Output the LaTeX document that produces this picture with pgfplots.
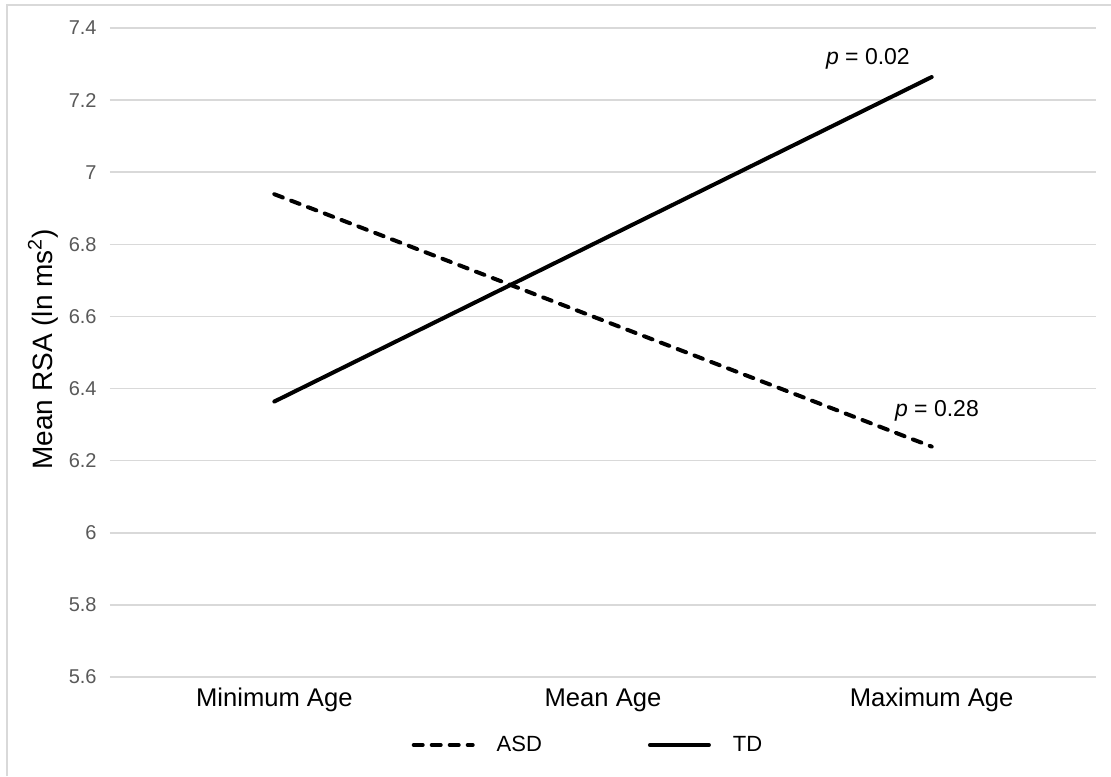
\documentclass[border=0pt]{standalone}
\usepackage{fontspec}
\setmainfont{Liberation Sans}
\usepackage{pgfplots}
\pgfplotsset{compat=1.18}

\definecolor{gridgray}{HTML}{D9D9D9}
\definecolor{tickgray}{HTML}{595959}

\begin{document}
\begin{tikzpicture}
  % canvas and chart-area frame (left and top edges)
  \useasboundingbox (0,0) rectangle (555.5pt,388pt);
  \fill[white] (0,0) rectangle (555.5pt,388pt);
  \draw[gridgray, line width=0.75pt] (3.5pt,0pt) -- (3.5pt,385.5pt) -- (556pt,385.5pt);

  \begin{axis}[
    at={(55pt,49.5pt)}, anchor=south west,
    scale only axis,
    width=493pt, height=324.5pt,
    xmin=-0.5, xmax=2.5,
    ymin=5.6, ymax=7.4,
    xtick={0,1,2},
    xticklabels={Minimum Age, Mean Age, Maximum Age},
    ytick={5.6,5.8,6,6.2,6.4,6.6,6.8,7,7.2,7.4},
    yticklabels={5.6,5.8,6,6.2,6.4,6.6,6.8,7,7.2,7.4},
    major tick length=0pt,
    axis line style={draw=none},
    ymajorgrids,
    grid style={gridgray, line width=0.75pt},
    xticklabel style={font=\fontsize{12.8pt}{15pt}\selectfont, anchor=center, yshift=-11.5pt},
    yticklabel style={font=\fontsize{10pt}{12pt}\selectfont, text=tickgray, anchor=east, inner sep=0pt, xshift=-6.5pt},
    ylabel={Mean RSA (ln ms\textsuperscript{2})},
    every axis y label/.style={at={(axis description cs:-0.068,0.505)}, rotate=90, anchor=center,
      font=\fontsize{14pt}{17pt}\selectfont},
    legend columns=2,
    legend style={at={(axis description cs:0.4858,-0.1048)}, anchor=center, draw=none, fill=none,
      font=\fontsize{11pt}{13pt}\selectfont,
      /tikz/every odd column/.append style={column sep=9pt},
      /tikz/every even column/.append style={column sep=51pt}},
    legend image code/.code={\draw[#1] (0pt,0pt) -- (29.5pt,0pt);},
    clip=false,
  ]
    % ASD group
    \addplot[black, line width=2pt, line cap=round, dash pattern=on 4.5pt off 4.5pt]
      coordinates {(0,6.939) (1,6.589) (2,6.239)};
    \addlegendentry{ASD}
    % TD group
    \addplot[black, line width=2pt, line cap=round]
      coordinates {(0,6.364) (1,6.814) (2,7.264)};
    \addlegendentry{TD}

    \node[font=\fontsize{11.5pt}{14pt}\selectfont] at (axis cs:1.806,7.314) {\textit{p} = 0.02};
    \node[font=\fontsize{11.5pt}{14pt}\selectfont] at (axis cs:2.016,6.339) {\textit{p} = 0.28};
  \end{axis}
\end{tikzpicture}
\end{document}
